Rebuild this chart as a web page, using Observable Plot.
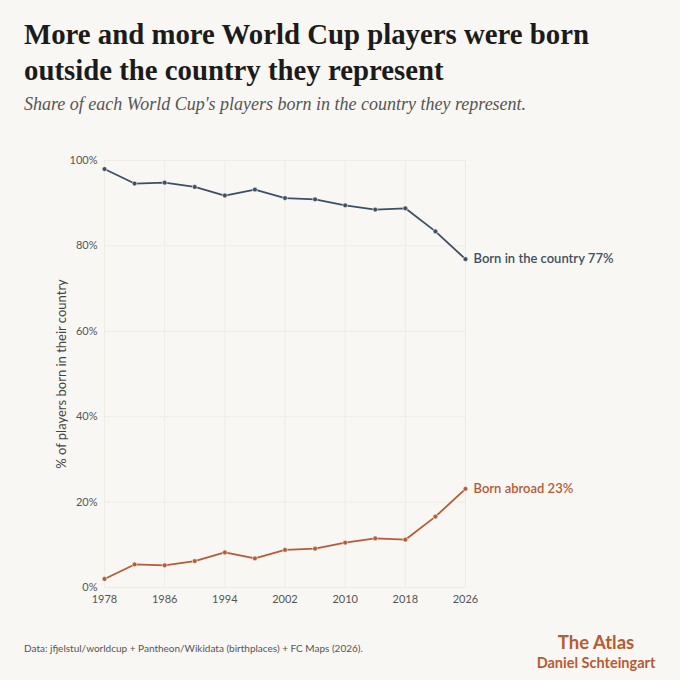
<!DOCTYPE html>
<html>
<head>
<meta charset="utf-8">
<script src="https://cdn.jsdelivr.net/npm/d3@7"></script>
<script src="https://cdn.jsdelivr.net/npm/@observablehq/plot@0.6"></script>
<style>
  html, body { margin:0; padding:0; background:#f9f7f3; }
  #wrap { position:relative; width:680px; height:680px; overflow:hidden; background:#f9f7f3; }
  #title { position:absolute; left:24px; top:16px; width:640px; font-family:"Liberation Serif", serif; font-weight:700; font-size:28.8px; line-height:36px; color:#1b1b1b; }
  #subtitle { position:absolute; left:24px; top:94px; font-family:"Liberation Serif", serif; font-style:italic; font-size:18px; color:#555; }
  #chart { position:absolute; left:0; top:140px; }
  #source { position:absolute; left:24px; top:642px; font-family:Lato, sans-serif; font-size:10px; color:#555; }
  #brand { position:absolute; left:516px; width:160px; top:632px; text-align:center; font-family:Lato, sans-serif; font-weight:700; color:#b85a35; }
  #brand .a { font-size:18.5px; line-height:21px; }
  #brand .b { font-size:14.5px; line-height:19px; }
</style>
</head>
<body>
<div id="wrap">
  <div id="title">More and more World Cup players were born outside the country they represent</div>
  <div id="subtitle">Share of each World Cup's players born in the country they represent.</div>
  <div id="chart"></div>
  <div id="source">Data: jfjelstul/worldcup + Pantheon/Wikidata (birthplaces) + FC Maps (2026).</div>
  <div id="brand"><div class="a">The Atlas</div><div class="b">Daniel Schteingart</div></div>
</div>
<script>
const years = [1978, 1982, 1986, 1990, 1994, 1998, 2002, 2006, 2010, 2014, 2018, 2022, 2026];
const bornAbroad = [2.0, 5.4, 5.2, 6.2, 8.2, 6.8, 8.8, 9.1, 10.5, 11.5, 11.2, 16.6, 23.1];
const bornInCountry = [98.0, 94.6, 94.8, 93.8, 91.8, 93.2, 91.2, 90.9, 89.5, 88.5, 88.8, 83.4, 76.9];
const seriesNames = ["Born in the country", "Born abroad"];
const seriesColors = ["#3d4f63", "#b85a35"];
const xTicks = [1978, 1986, 1994, 2002, 2010, 2018, 2026];
const yTicks = [0, 20, 40, 60, 80, 100];

const rows = [];
years.forEach((y, i) => {
  rows.push({year: y, value: bornInCountry[i], series: seriesNames[0]});
  rows.push({year: y, value: bornAbroad[i], series: seriesNames[1]});
});
const last = rows.filter(d => d.year === years[years.length - 1]);
const font = "Lato, sans-serif";

const chart = Plot.plot({
  width: 680,
  height: 480,
  marginTop: 20,
  marginBottom: 33,
  marginLeft: 104,
  marginRight: 215,
  style: {background: "transparent", fontFamily: font},
  x: {domain: [1978, 2026]},
  y: {domain: [0, 100]},
  color: {domain: seriesNames, range: seriesColors},
  marks: [
    Plot.gridX(xTicks, {stroke: "#efece6", strokeOpacity: 1}),
    Plot.gridY(yTicks, {stroke: "#efece6", strokeOpacity: 1}),
    Plot.axisX(xTicks, {tickSize: 0, tickPadding: 8, tickFormat: d => String(d), label: null, fontSize: 11, fill: "#555"}),
    Plot.axisY(yTicks, {tickSize: 0, tickPadding: 7, tickFormat: d => d + "%", label: null, fontSize: 11, fill: "#555"}),
    Plot.axisY({ticks: [], label: "% of players born in their country", labelAnchor: "center", labelArrow: "none", labelOffset: 48, fontSize: 13, fill: "#444"}),
    Plot.line(rows, {x: "year", y: "value", z: "series", stroke: "series", strokeWidth: 1.8}),
    Plot.dot(rows, {x: "year", y: "value", fill: "series", r: 2.4, stroke: "#f9f7f3", strokeWidth: 0.6}),
    Plot.text(last, {x: "year", y: "value", fill: "series", text: d => `${d.series} ${Math.round(d.value)}%`, textAnchor: "start", dx: 8, fontSize: 13, fontWeight: 600})
  ]
});
document.getElementById("chart").appendChild(chart);
</script>
</body>
</html>
